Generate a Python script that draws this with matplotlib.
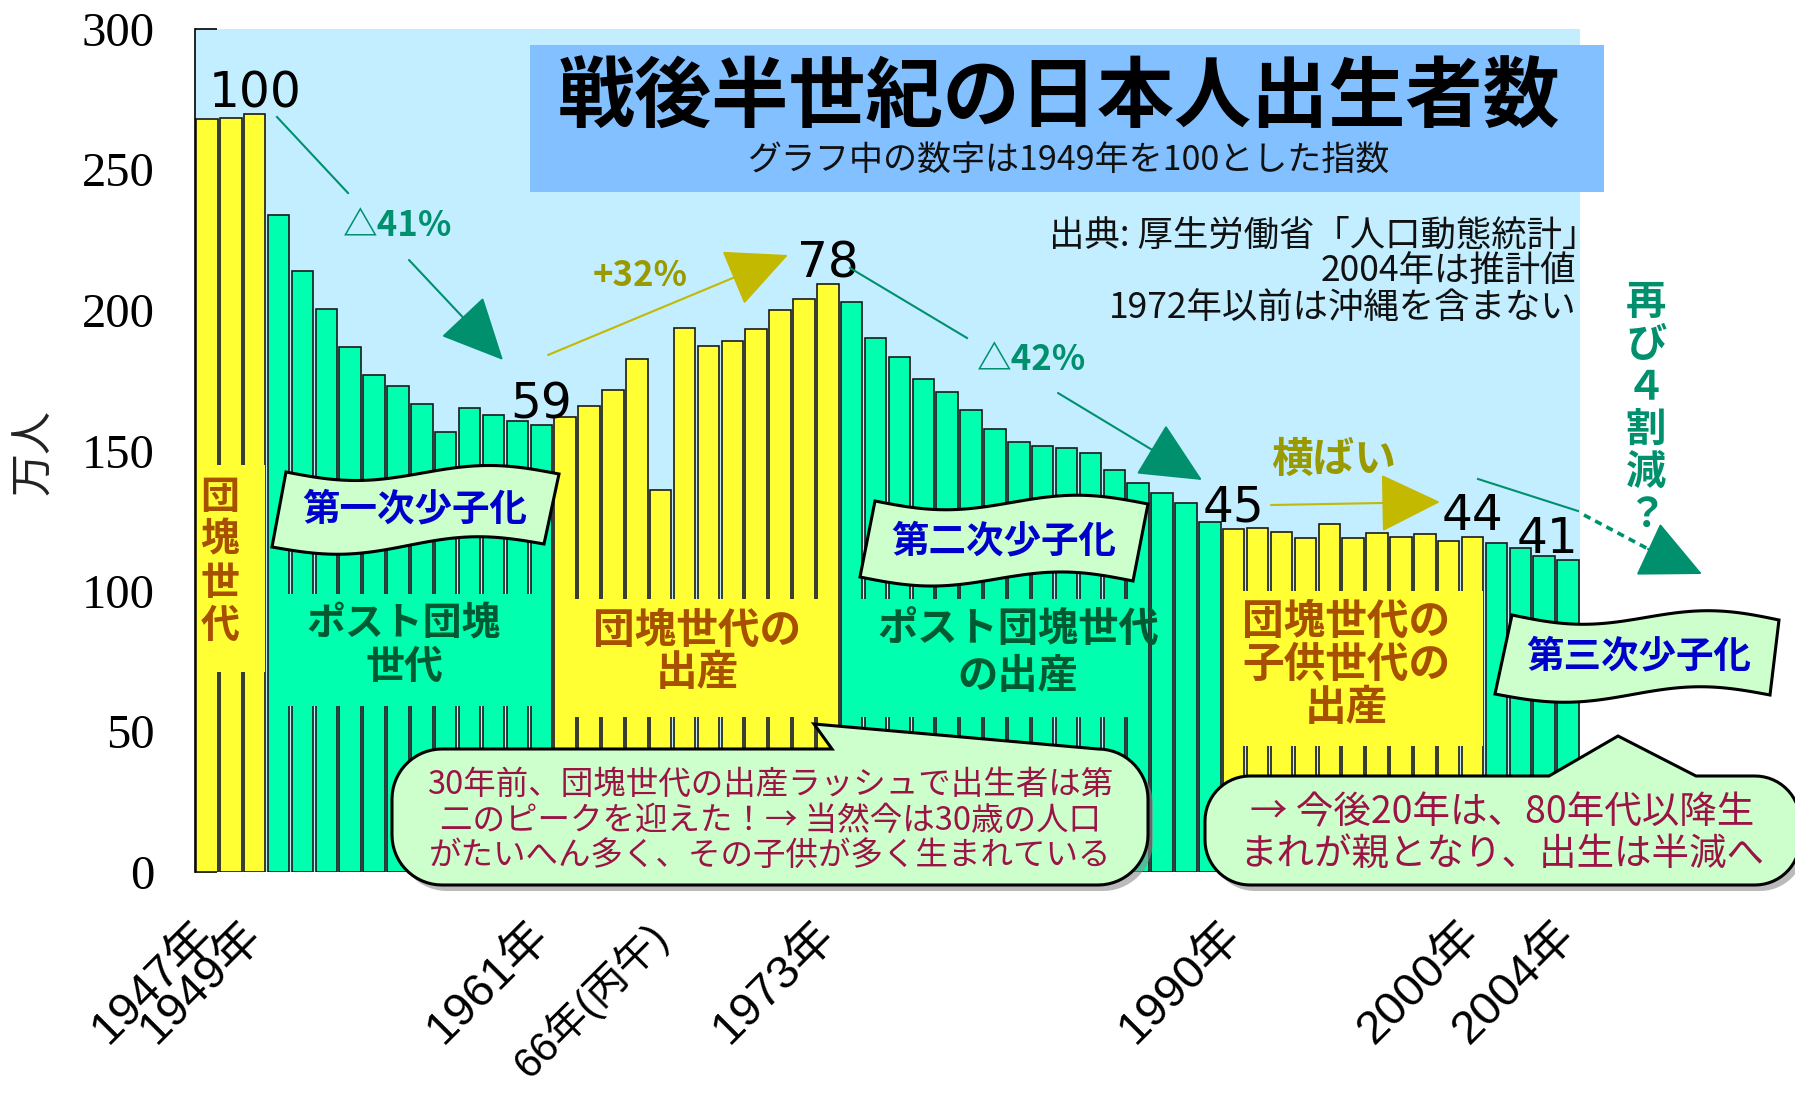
import matplotlib
matplotlib.use("Agg")
import matplotlib.pyplot as plt
import matplotlib.transforms as mtransforms
from matplotlib.patches import Polygon, Rectangle, FancyArrowPatch
from matplotlib.lines import Line2D
import numpy as np

plt.rcParams['font.family'] = ['Noto Sans CJK JP', 'DejaVu Sans']

# births per year, in 10,000 persons (2004 is an estimate)
years = list(range(1947, 2005))
births = [267.9, 268.2, 269.7, 233.8, 213.8, 200.5, 186.8, 177.0, 173.1, 166.5,
          156.7, 165.3, 162.6, 160.6, 158.9, 161.9, 166.0, 171.7, 182.4, 136.1,
          193.6, 187.2, 189.0, 193.4, 200.1, 203.9, 209.2, 203.0, 190.1, 183.3,
          175.5, 170.9, 164.3, 157.7, 152.9, 151.5, 150.9, 149.0, 143.2, 138.3,
          134.7, 131.4, 124.7, 122.2, 122.3, 120.9, 118.8, 123.8, 118.7, 120.7,
          119.2, 120.3, 117.8, 119.1, 117.1, 115.4, 112.4, 111.1]

# generation blocks (first year, last year), alternating yellow / green
gen_start = [1947, 1950, 1962, 1974, 1990, 2001]
gen_end = [1949, 1961, 1973, 1989, 2000, 2004]

tick_years = [1947, 1949, 1961, 1966, 1973, 1990, 2000, 2004]
tick_labels = ['1947年', '1949年', '1961年', '66年(丙午)', '1973年', '1990年', '2000年', '2004年']

base_year = 1949
index_years = [1949, 1961, 1973, 1990, 2000, 2004]

YELLOW = '#FFFF33'
GREEN = '#00FFAF'
TEAL = '#00906E'
OLIVE = '#C2B900'
BROWN = '#A65000'
DKGREEN = '#005A32'
BLUE = '#0000CC'
RED = '#9C1446'
PALE = '#CCFFCC'

W, H = 1795, 1096
fig = plt.figure(figsize=(W / 100, H / 100), dpi=100)
# pixel coordinates measured from the top-left corner of the image
pix = mtransforms.Affine2D().scale(1 / W, -1 / H).translate(0, 1) + fig.transFigure

ax = fig.add_axes([195 / W, 1 - 872 / H, 1385 / W, 843 / H])
ax.set_facecolor('#C2EEFF')

colors = []
for y in years:
    for k in range(len(gen_start)):
        if gen_start[k] <= y <= gen_end[k]:
            colors.append(YELLOW if k % 2 == 0 else GREEN)
ax.bar(years, births, width=0.9, color=colors, edgecolor='#1a1a1a', linewidth=1.2, zorder=2)

ax.set_xlim(1946.5, 2004.5)
ax.set_ylim(0, 300)
ax.set_yticks(range(0, 301, 50))
ax.tick_params(axis='y', direction='in', length=16, width=1.2, pad=29, labelsize=35)
for lab in ax.get_yticklabels():
    lab.set_fontfamily('Liberation Serif')
ax.set_xticks(tick_years)
ax.set_xticklabels(tick_labels, rotation=45, ha='right', va='top', rotation_mode='anchor',
                   fontsize=34, family=['Liberation Sans', 'Noto Sans CJK JP'])
ax.tick_params(axis='x', length=0, pad=30)
shift = mtransforms.ScaledTranslation(-11 / 72, 0, fig.dpi_scale_trans)
for lab in ax.get_xticklabels():
    lab.set_transform(lab.get_transform() + shift)
# the long 丙午 label is set a little smaller so that it stays inside the image
ax.get_xticklabels()[3].set_fontsize(30)
for s in ['top', 'right', 'bottom']:
    ax.spines[s].set_visible(False)
ax.spines['left'].set_linewidth(1.2)

# plain blocks behind the generation captions
patch_x0 = [1947, 1950, 1962, 1974, 1990]
patch_x1 = [1949, 1961, 1973, 1986, 2000]
patch_y0 = [71, 59, 55, 55, 45]
patch_y1 = [145, 99, 97, 97, 100]
for k in range(len(patch_x0)):
    c = YELLOW if k % 2 == 0 else GREEN
    ax.add_patch(Rectangle((patch_x0[k] - 0.42, patch_y0[k]), patch_x1[k] - patch_x0[k] + 0.84,
                           patch_y1[k] - patch_y0[k], facecolor=c, edgecolor='none', zorder=3))

# index numbers (1949 = 100)
v0 = births[years.index(base_year)]
for y in index_years:
    v = births[years.index(y)]
    ha = 'right' if y == years[-1] else 'center'
    x = y + 0.45 if y == years[-1] else y
    ax.annotate(str(round(v / v0 * 100)), (x, v), xytext=(0, 5), textcoords='offset points',
                ha=ha, va='baseline', fontsize=35, family='DejaVu Sans', zorder=6)


def put_lines(x, y0, dy, strs, **kw):
    for i, s in enumerate(strs):
        fig.text(x, y0 + i * dy, s, transform=pix, ha='center', va='center', **kw)


def banner(tl, tr, br, bl, text, amp=8):
    t = np.linspace(0, 1, 60)
    wave = amp * np.sin(2 * np.pi * t)
    top = np.column_stack([tl[0] + t * (tr[0] - tl[0]), tl[1] + t * (tr[1] - tl[1]) + wave])
    bot = np.column_stack([bl[0] + t * (br[0] - bl[0]), bl[1] + t * (br[1] - bl[1]) + wave])
    fig.add_artist(Polygon(np.vstack([top, bot[::-1]]), closed=True, transform=pix,
                           facecolor=PALE, edgecolor='black', linewidth=2.2, zorder=5))
    cx = (tl[0] + tr[0] + br[0] + bl[0]) / 4
    cy = (tl[1] + tr[1] + br[1] + bl[1]) / 4
    fig.text(cx, cy, text, transform=pix, ha='center', va='center', fontsize=27,
             weight='bold', color=BLUE, zorder=6)


def bubble(x0, y0, x1, y1, r, wx0, tip, wx1, texts, size, ty0, tdy, tx):
    def arc(cx, cy, a0, a1):
        a = np.radians(np.linspace(a0, a1, 16))
        return np.column_stack([cx + r * np.cos(a), cy + r * np.sin(a)])
    pts = np.vstack([[[x0 + r, y0], [wx0, y0], tip, [wx1, y0]],
                     arc(x1 - r, y0 + r, -90, 0), arc(x1 - r, y1 - r, 0, 90),
                     arc(x0 + r, y1 - r, 90, 180), arc(x0 + r, y0 + r, 180, 270)])
    fig.add_artist(Polygon(pts + [5, 6], closed=True, transform=pix, facecolor='#8c8c8c',
                           edgecolor='none', alpha=0.6, zorder=4.9))
    fig.add_artist(Polygon(pts, closed=True, transform=pix, facecolor=PALE,
                           edgecolor='black', linewidth=2.2, zorder=5))
    put_lines(tx, ty0, tdy, texts, fontsize=size, color=RED, zorder=6)


def arrow(a, b, color, lw=1.5, hl=40, hw=19):
    fig.add_artist(FancyArrowPatch(a, b, transform=pix, color=color, lw=lw, mutation_scale=1,
                                   arrowstyle=f'-|>,head_length={hl},head_width={hw}',
                                   shrinkA=0, shrinkB=0, zorder=6))


def seg(a, b, color, lw=1.5, **kw):
    fig.add_artist(Line2D([a[0], b[0]], [a[1], b[1]], transform=pix, color=color, lw=lw,
                          zorder=6, **kw))


# title box
fig.add_artist(Rectangle((530, 45), 1074, 147, transform=pix, facecolor='#82C0FF',
                         edgecolor='none', zorder=4))
fig.text(1059, 99, '戦後半世紀の日本人出生者数', transform=pix, ha='center', va='center',
         fontsize=55.5, weight='bold', color='black', zorder=5)
fig.text(1068, 160, 'グラフ中の数字は1949年を100とした指数', transform=pix, ha='center',
         va='center', fontsize=24.5, color='#111111', zorder=5)

# source notes
fig.text(1597, 236, '出典: 厚生労働省「人口動態統計」', transform=pix, ha='right', va='center',
         fontsize=25.5, color='#111111')
fig.text(1576, 272, '2004年は推計値', transform=pix, ha='right', va='center',
         fontsize=25.5, color='#111111')
fig.text(1576, 309, '1972年以前は沖縄を含まない', transform=pix, ha='right', va='center',
         fontsize=25.5, color='#111111')

# y axis unit
fig.text(34, 452, '万人', transform=pix, ha='center', va='center', rotation=90,
         fontsize=31, color='#222222')

# generation captions
put_lines(220, 497, 43, list('団塊世代'), fontsize=28, weight='bold', color=BROWN, zorder=6)
put_lines(404, 624, 43, ['ポスト団塊', '世代'], fontsize=28, weight='bold', color=DKGREEN, zorder=6)
put_lines(697, 631, 42, ['団塊世代の', '出産'], fontsize=30, weight='bold', color=BROWN, zorder=6)
put_lines(1018, 629, 47, ['ポスト団塊世代', 'の出産'], fontsize=29, weight='bold', color=DKGREEN, zorder=6)
put_lines(1346, 622, 43, ['団塊世代の', '子供世代の', '出産'], fontsize=30, weight='bold',
          color=BROWN, zorder=6)

# banners
banner((286, 472), (559, 474), (544, 544), (272, 547), '第一次少子化')
banner((875, 501), (1148, 504), (1133, 581), (860, 577), '第二次少子化')
banner((1512, 615), (1779, 620), (1770, 695), (1495, 694), '第三次少子化')

# speech bubbles
bubble(392, 749, 1148, 885, 50, 832, (814, 724), 1098,
       ['30年前、団塊世代の出産ラッシュで出生者は第',
        '二のピークを迎えた！→ 当然今は30歳の人口',
        'がたいへん多く、その子供が多く生まれている'], 23.4, 785, 35.5, 770)
bubble(1205, 776, 1800, 885, 45, 1549, (1618, 736), 1696,
       ['→ 今後20年は、80年代以降生', 'まれが親となり、出生は半減へ'], 27, 813, 41, 1502)

# trend arrows
seg((277, 117), (348, 193), TEAL)
arrow((409, 260), (503, 360), TEAL)
fig.text(398, 225, '△41%', transform=pix, ha='center', va='center', fontsize=25,
         weight='bold', color=TEAL)

arrow((548, 355), (788, 255), OLIVE)
fig.text(640, 275, '+32%', transform=pix, ha='center', va='center', fontsize=25,
         weight='bold', color='#999900')

seg((850, 268), (967, 338), TEAL)
arrow((1058, 393), (1202, 480), TEAL)
fig.text(1032, 360, '△42%', transform=pix, ha='center', va='center', fontsize=25,
         weight='bold', color=TEAL)

arrow((1271, 505), (1440, 502), OLIVE, hl=39, hw=19)
fig.text(1334, 460, '横ばい', transform=pix, ha='center', va='center', fontsize=30,
         weight='bold', color='#999900')

seg((1478, 479), (1578, 511), TEAL)
seg((1584, 515), (1652, 551), TEAL, lw=2.6, dashes=(2, 1.5))
arrow((1648, 549), (1702, 574), TEAL, hl=40, hw=19)
put_lines(1646, 303, 42.4, ['再', 'び', '４', '割', '減', '？'], fontsize=29, weight='bold',
          color=TEAL, zorder=6)

fig.savefig('out.png', dpi=100)
